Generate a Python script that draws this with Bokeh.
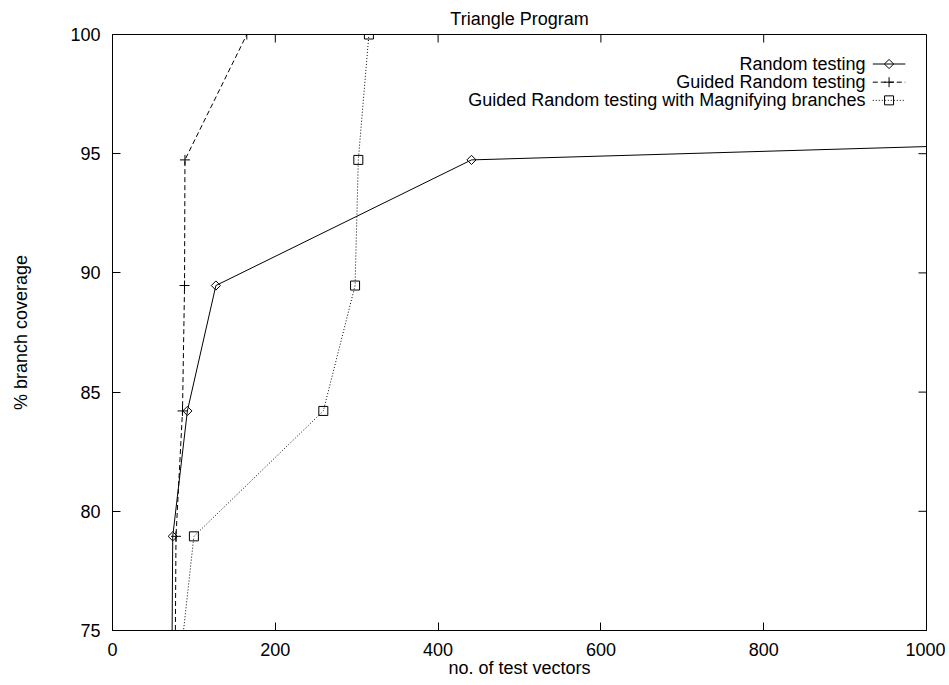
import math
from bokeh.plotting import figure
from bokeh.models import Range1d, FixedTicker
from bokeh.embed import file_html
from bokeh.resources import INLINE
from bokeh.core.properties import value

# ---- data ----
coverage = [73.68, 78.95, 84.21, 89.47, 94.74, 100.0]
random_vectors = [73, 74, 92, 127, 441, 5700]
guided_vectors = [77, 78, 86, 88.5, 89, 165]
magnify_vectors = [83, 100, 259, 298, 302, 315]
series_names = ["Random testing", "Guided Random testing",
                "Guided Random testing with Magnifying branches"]
x_ticks = [0, 200, 400, 600, 800, 1000]
y_ticks = [75, 80, 85, 90, 95, 100]

FONT = "Liberation Sans"
FS = "18px"
X0, X1 = 0, 1000
Y0, Y1 = 75, 100

p = figure(width=945, height=680, output_backend="svg", toolbar_location=None,
           x_range=Range1d(X0, X1), y_range=Range1d(Y0, Y1),
           min_border_left=112, min_border_right=19, min_border_top=34,
           min_border_bottom=48, title="Triangle Program")
p.title.align = "center"
p.title.text_font = FONT
p.title.text_font_size = FS
p.title.text_font_style = "normal"
p.title.text_color = "black"
p.title.standoff = 11
p.title.offset = 0

p.grid.visible = False
p.outline_line_color = "black"
p.outline_line_width = 1
p.background_fill_color = "white"
p.border_fill_color = "white"

for ax, ticks in ((p.xaxis[0], x_ticks), (p.yaxis[0], y_ticks)):
    ax.ticker = FixedTicker(ticks=ticks)
    ax.major_tick_in = 8
    ax.major_tick_out = 0
    ax.minor_tick_in = 0
    ax.minor_tick_out = 0
    ax.axis_line_color = "black"
    ax.major_tick_line_color = "black"
    ax.major_label_text_font = FONT
    ax.major_label_text_font_size = FS
    ax.major_label_text_color = "black"
    ax.axis_label_text_font = FONT
    ax.axis_label_text_font_size = FS
    ax.axis_label_text_font_style = "normal"
    ax.axis_label_text_color = "black"

p.xaxis[0].axis_label = "no. of test vectors"
p.xaxis[0].major_label_standoff = 12
p.xaxis[0].axis_label_standoff = -1
p.yaxis[0].axis_label = "% branch coverage"
p.yaxis[0].major_label_standoff = 12
p.yaxis[0].axis_label_standoff = 36

# mirrored inward ticks on the top and right borders
p.ray(x=x_ticks, y=[Y1] * len(x_ticks), length=8, length_units="screen",
      angle=-math.pi / 2, line_color="black", line_width=1)
p.ray(x=[X1] * len(y_ticks), y=y_ticks, length=8, length_units="screen",
      angle=math.pi, line_color="black", line_width=1)

styles = [
    (random_vectors, dict(marker="square", angle=math.pi / 4, size=6.5), "solid"),
    (guided_vectors, dict(marker="cross", size=10), "5 3"),
    (magnify_vectors, dict(marker="square", size=9), "1 2"),
]

for i, (xs, mk, dash) in enumerate(styles):
    p.line(xs, coverage, line_color="black", line_width=1, line_dash=dash)
    p.scatter(xs, coverage, fill_color=None, line_color="black", line_width=1, **mk)

    # legend entry (gnuplot style: text then sample)
    ry = Y1 - (Y1 - Y0) * (0.0495 + 0.0305 * i)
    tx = X0 + (X1 - X0) * 0.925
    sx0 = X0 + (X1 - X0) * 0.934
    sx1 = X0 + (X1 - X0) * 0.974
    sxm = (sx0 + sx1) / 2
    p.text(x=[tx], y=[ry], text=[series_names[i]], text_align="right",
           text_baseline="middle", text_font=value(FONT), text_font_size=FS,
           text_color="black")
    p.line([sx0, sx1], [ry, ry], line_color="black", line_width=1, line_dash=dash)
    p.scatter([sxm], [ry], fill_color=None, line_color="black", line_width=1, **mk)

open("out.html", "w").write(file_html(p, INLINE))
